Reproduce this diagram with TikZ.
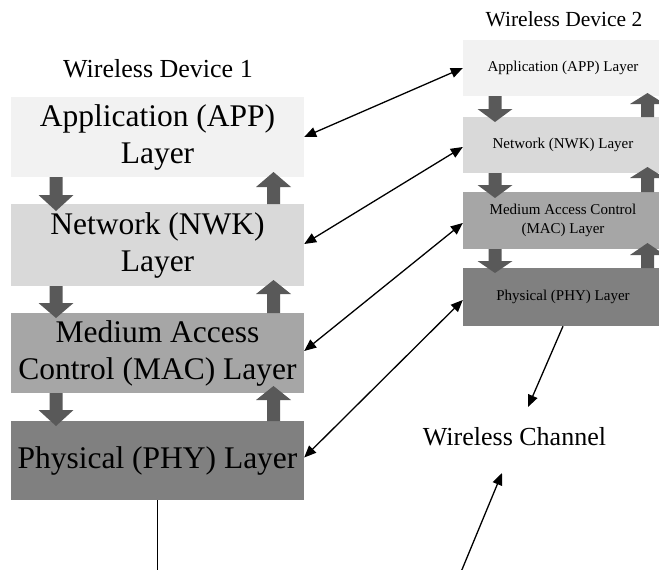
\documentclass[tikz,border=0pt]{standalone}
\usepackage{fontspec}
\setmainfont{Liberation Serif}
\usetikzlibrary{arrows.meta}
\definecolor{appgray}{HTML}{F2F2F2}
\definecolor{nwkgray}{HTML}{D9D9D9}
\definecolor{macgray}{HTML}{A6A6A6}
\definecolor{phygray}{HTML}{808080}
\definecolor{blkarrow}{HTML}{595959}
\newcommand\fsz[2]{\fontsize{#1}{#2}\selectfont}
% block arrow: x of axis, y where the shaft starts, y of the head base, y of the tip
\newcommand\blockarrow[4]{%
  \fill[blkarrow] (#1-6.5,#2) -- (#1+6.5,#2) -- (#1+6.5,#3) -- (#1+17.5,#3)
    -- (#1,#4) -- (#1-17.5,#3) -- (#1-6.5,#3) -- cycle;}
\begin{document}
\begin{tikzpicture}[x=1pt,y=-1pt,
  layerL/.style={rectangle, inner sep=0pt, minimum width=293pt, align=center,
    font=\fsz{31.5}{37}},
  layerR/.style={rectangle, inner sep=0pt, minimum width=200pt, align=center,
    font=\fsz{15}{18.5}},
  title/.style={anchor=base, inner sep=0pt},
  link/.style={line width=1.3pt, {Triangle[length=12pt,width=10pt]}-{Triangle[length=12pt,width=10pt]}},
  chan/.style={line width=1.3pt, -{Triangle[length=12pt,width=10pt]}}
]
\useasboundingbox (0,0) rectangle (659,570);
\begin{scope}
\clip (0,0) rectangle (659,570);

% protocol stack of the first device
\node[title, font=\fsz{26}{30}] (T1) at (158,77) {Wireless Device 1};
\node[layerL, fill=appgray, minimum height=80pt] (L1) at (157.5,137) {Application (APP)\\Layer};
\node[layerL, fill=nwkgray, minimum height=82pt] (L2) at (157.5,245) {Network (NWK)\\Layer};
\node[layerL, fill=macgray, minimum height=80pt] (L3) at (157.5,353) {Medium Access\\Control (MAC) Layer};
\node[layerL, fill=phygray, minimum height=79pt] (L4) at (157.5,460.5) {Physical (PHY) Layer};

% protocol stack of the second device
\node[title, font=\fsz{21.5}{25}] (T2) at (564,27) {Wireless Device 2};
\node[layerR, fill=appgray, minimum height=56pt] (R1) at (563,68) {Application (APP) Layer};
\node[layerR, fill=nwkgray, minimum height=56pt] (R2) at (563,145) {Network (NWK) Layer};
\node[layerR, fill=macgray, minimum height=57pt] (R3) at (563,220.5) {Medium Access Control\\(MAC) Layer};
\node[layerR, fill=phygray, minimum height=58pt] (R4) at (563,297) {Physical (PHY) Layer};

\node[title, font=\fsz{26}{30}] (WC) at (514.5,445) {Wireless Channel};

% data flow down and up the stacks
\blockarrow{56}{177}{195}{211}
\blockarrow{56}{286}{303}{318}
\blockarrow{56}{393}{410}{426}
\blockarrow{273.5}{204}{187}{172}
\blockarrow{273.5}{313}{294}{280}
\blockarrow{273.5}{421}{400}{386}
\blockarrow{495}{96}{109}{122}
\blockarrow{495}{173}{185}{198}
\blockarrow{495}{249}{261}{273}
\blockarrow{647.5}{117}{104}{93}
\blockarrow{647.5}{192}{178}{167}
\blockarrow{647.5}{268}{255}{243}

% peer-to-peer links between the layers
\draw[link] (L1.east) -- (R1.west);
\draw[link] ([yshift=1pt]L2.east) -- ([yshift=-2pt]R2.west);
\draw[link] ([yshift=2pt]L3.east) -- ([yshift=-2.5pt]R3.west);
\draw[link] ([yshift=3pt]L4.east) -- ([yshift=-3pt]R4.west);

% access to the wireless channel
\coordinate (chTop) at (528,407);
\coordinate (chBot) at (502,473);
\coordinate (chFoot) at (461,572);
\coordinate (phyFoot) at (157.5,572);
\draw[chan] (R4.south) -- (chTop);
\draw[chan] (chFoot) -- (chBot);
\draw[line width=1pt] (L4.south) -- (phyFoot);
\end{scope}
\end{tikzpicture}
\end{document}
